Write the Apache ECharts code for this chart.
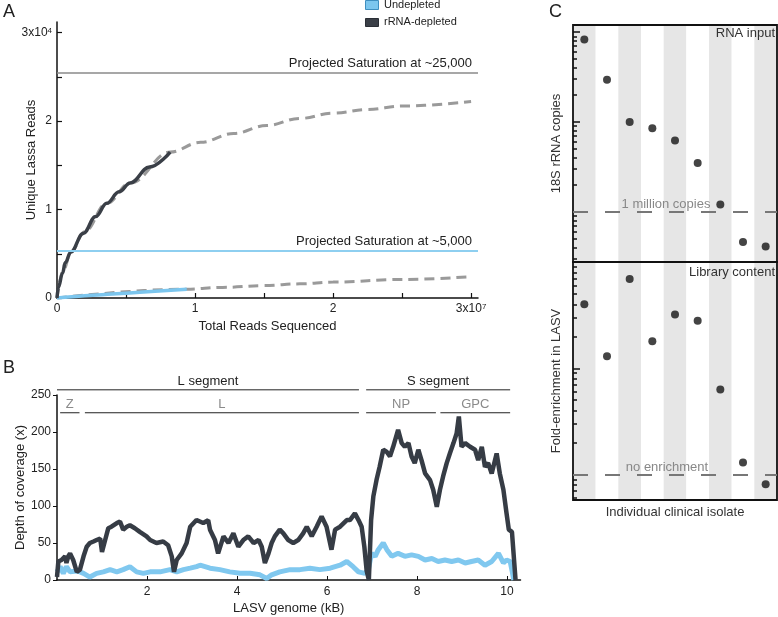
<!DOCTYPE html>
<html><head><meta charset="utf-8">
<script src="https://cdn.jsdelivr.net/npm/echarts@6/dist/echarts.min.js"></script>
<style>html,body{margin:0;padding:0;background:#fff}#c{width:778px;height:617px}</style>
</head><body><div id="c"></div>
<script>
// ---------- Panel A: saturation curves (x = total reads, y = unique Lassa reads) ----------
const depletedCurve = [[0,0],[1e5,1200],[4e5,2800],[6e5,4000],[1.0e6,5200],[1.9e6,7300],[2.8e6,9200],[3.6e6,10700],[4.5e6,12000],[5.3e6,13000],[6.7e6,14800],[8.2e6,16500]];
const depletedProjection = [[0,0],[5e5,3300],[1.0e6,5200],[2.0e6,7500],[3.6e6,10700],[5.3e6,13000],[8.2e6,16500],[10.4e6,17600],[12.8e6,18600],[15.2e6,19500],[17.6e6,20300],[20e6,20900],[22.5e6,21300],[25e6,21700],[30e6,22200]];
const undepletedCurve = [[0,0],[2e6,250],[4e6,450],[6e6,650],[9.4e6,1000]];
const undepletedProjection = [[0,0],[9.4e6,1000],[12e6,1200],[15e6,1400],[17.6e6,1600],[20e6,1800],[25e6,2100],[30e6,2400]];
const saturationDepleted = 25500;
const saturationUndepleted = 5300;
const readsTicks = [0,5e6,10e6,15e6,20e6,25e6,30e6];
const readsLabels = [0,10e6,20e6,30e6];
const uniqueTicks = [0,5000,10000,15000,20000,25000,30000];
const uniqueLabels = [0,10000,20000,30000];

// ---------- Panel B: coverage along LASV genome [kB, depth] ----------
const depletedCoverage = [[0,4],[0.03,25],[0.1,27],[0.18,32],[0.21,23],[0.25,32],[0.29,36],[0.36,27],[0.44,11],[0.51,14],[0.59,32],[0.66,45],[0.73,50],[0.81,52],[0.88,54],[0.96,56],[1.0,38],[1.07,54],[1.14,70],[1.21,72],[1.33,77],[1.40,79],[1.47,68],[1.55,72],[1.62,74],[1.73,70],[1.84,65],[1.99,59],[2.07,54],[2.21,50],[2.36,52],[2.47,47],[2.55,32],[2.60,11],[2.66,27],[2.77,36],[2.88,50],[2.96,72],[3.10,81],[3.25,77],[3.36,81],[3.40,68],[3.51,54],[3.58,36],[3.70,59],[3.81,50],[3.92,63],[4.03,45],[4.14,54],[4.25,59],[4.37,50],[4.48,54],[4.55,45],[4.62,23],[4.70,36],[4.77,50],[4.84,59],[4.95,68],[5.03,63],[5.14,54],[5.25,50],[5.36,54],[5.47,63],[5.55,72],[5.66,59],[5.77,72],[5.88,86],[5.99,72],[6.10,41],[6.18,68],[6.29,72],[6.44,81],[6.51,81],[6.62,90],[6.70,81],[6.77,72],[6.83,45],[6.88,13],[6.93,0],[6.98,81],[7.03,113],[7.10,135],[7.17,153],[7.25,176],[7.33,173],[7.40,167],[7.47,180],[7.58,203],[7.66,185],[7.73,180],[7.81,185],[7.88,167],[7.95,158],[8.03,176],[8.10,162],[8.18,144],[8.29,135],[8.36,122],[8.44,99],[8.51,122],[8.58,140],[8.66,158],[8.73,171],[8.81,185],[8.88,198],[8.93,221],[8.99,180],[9.07,185],[9.18,180],[9.29,176],[9.36,162],[9.44,180],[9.51,153],[9.58,158],[9.66,144],[9.77,171],[9.84,144],[9.92,122],[9.99,90],[10.04,68],[10.11,65],[10.19,0]];
const undepletedCoverage = [[0,11],[0.07,18],[0.14,9],[0.21,18],[0.29,11],[0.44,12],[0.51,11],[0.59,9],[0.73,4],[0.88,9],[1.03,11],[1.18,14],[1.33,11],[1.47,14],[1.62,18],[1.77,11],[1.92,9],[2.07,11],[2.29,11],[2.51,14],[2.66,11],[2.81,14],[2.96,16],[3.10,18],[3.18,20],[3.40,16],[3.62,14],[3.84,11],[4.07,9],[4.29,9],[4.51,7],[4.66,2],[4.77,7],[4.95,11],[5.18,14],[5.40,14],[5.62,16],[5.84,14],[6.07,16],[6.29,20],[6.44,25],[6.58,18],[6.70,11],[6.84,9],[6.92,14],[6.99,36],[7.07,32],[7.14,41],[7.25,50],[7.33,41],[7.44,32],[7.58,36],[7.73,32],[7.88,34],[8.03,32],[8.18,27],[8.33,29],[8.47,25],[8.62,27],[8.77,25],[8.92,27],[9.07,23],[9.21,25],[9.36,27],[9.51,20],[9.66,25],[9.81,36],[9.92,23],[9.99,27],[10.07,25],[10.12,10],[10.15,0]];
const genomeTicks = [2,4,6,8,10];
const segmentNames = ['L segment','S segment'];
const segmentStart = [0, 6.87];
const segmentEnd = [6.71, 10.07];
const geneNames = ['Z','L','NP','GPC'];
const geneStart = [0.07, 0.62, 6.87, 8.52];
const geneEnd = [0.5, 6.71, 8.42, 10.07];

// ---------- Panel C: per isolate ----------
const isolates = ['1','2','3','4','5','6','7','8','9'];
const rrnaCopies = [8.3e7, 2.95e7, 1.0e7, 8.5e6, 6.2e6, 3.5e6, 1.2e6, 4.6e5, 4.1e5];
const foldEnrichment = [40, 13, 69, 18, 32, 28, 6.3, 1.3, 0.81];
const copiesMajor = [1e6, 1e7, 1e8];
const copiesMinor = [3e5,4e5,5e5,6e5,7e5,8e5,9e5,2e6,3e6,4e6,5e6,6e6,7e6,8e6,9e6,2e7,3e7,4e7,5e7,6e7,7e7,8e7,9e7];
const enrichMajor = [1, 10, 100];
const enrichMinor = [0.6,0.7,0.8,0.9,2,3,4,5,6,7,8,9,20,30,40,50,60,70,80,90];

const FONT = 'Liberation Sans';
const chart = echarts.init(document.getElementById('c'), null, {renderer:'canvas'});

const annotations = [];
segmentNames.forEach((n,i)=>annotations.push({name:n, value:[segmentStart[i], segmentEnd[i], 257, 0]}));
geneNames.forEach((n,i)=>annotations.push({name:n, value:[geneStart[i], geneEnd[i], 226, 1]}));

const blackLine = {show:true, lineStyle:{color:'#111', width:1.5}};
const hidden = {show:false};

function logAxis(grid, min, max, ticks, len, name) {
  return {
    gridIndex: grid, type:'log', logBase:10, min:min, max:max, position:'left', offset:0,
    axisLine: hidden, splitLine: hidden, axisLabel: hidden,
    axisTick: {show:true, inside:true, length:len, customValues:ticks, lineStyle:{color:'#111', width:1.5}},
    name: name || '', nameLocation:'middle', nameGap: 10, nameRotate: 90, nameMoveOverlap:false,
    nameTextStyle:{fontSize:13, color:'#333', fontFamily:FONT}
  };
}

const option = {
  animation:false,
  textStyle:{fontFamily:FONT},
  grid:[
    {left:57, top:22, width:421, height:276, outerBoundsMode:'none', containLabel:false},
    {left:57, top:395, width:463.5, height:185, outerBoundsMode:'none', containLabel:false},
    {left:573, top:25, width:204, height:237, outerBoundsMode:'none', show:true, z:5, borderColor:'#111', borderWidth:1.8, backgroundColor:'transparent'},
    {left:573, top:262, width:204, height:238, outerBoundsMode:'none', show:true, z:5, borderColor:'#111', borderWidth:1.8, backgroundColor:'transparent'}
  ],
  xAxis:[
    {gridIndex:0, type:'value', min:0, max:30.5e6, axisLine:blackLine, splitLine:hidden,
     axisTick:{inside:true, length:5, customValues:readsTicks, lineStyle:{color:'#111', width:1.2}},
     axisLabel:{customValues:readsLabels, fontSize:12, color:'#222', margin:5,
       formatter:v=> v===30e6 ? '3x10{s|7}' : String(v/1e7),
       rich:{s:{fontSize:8, verticalAlign:'top', lineHeight:12, color:'#222'}}},
     name:'Total Reads Sequenced', nameLocation:'middle', nameGap:22, nameMoveOverlap:false, nameTextStyle:{fontSize:13, color:'#222'}},
    {gridIndex:1, type:'value', min:0, max:10.3, axisLine:blackLine, splitLine:hidden,
     axisTick:{inside:true, length:4, customValues:genomeTicks, lineStyle:{color:'#111'}},
     axisLabel:{customValues:genomeTicks, fontSize:12, color:'#222', margin:6},
     name:'LASV genome (kB)', nameLocation:'middle', nameGap:22, nameMoveOverlap:false, nameTextStyle:{fontSize:13, color:'#222'}},
    {gridIndex:2, type:'category', data:isolates, boundaryGap:true, axisLine:hidden, axisTick:hidden, axisLabel:hidden,
     splitLine:hidden, splitArea:{show:true, areaStyle:{color:['#e6e6e6','#ffffff']}}},
    {gridIndex:3, type:'category', data:isolates, boundaryGap:true, axisLine:hidden, axisTick:hidden, axisLabel:hidden,
     splitLine:hidden, splitArea:{show:true, areaStyle:{color:['#e6e6e6','#ffffff']}},
     name:'Individual clinical isolate', nameLocation:'middle', nameGap:6, nameMoveOverlap:false, nameTextStyle:{fontSize:13, color:'#333'}}
  ],
  yAxis:[
    {gridIndex:0, type:'value', min:0, max:31200, axisLine:blackLine, splitLine:hidden,
     axisTick:{inside:true, length:5, customValues:uniqueTicks, lineStyle:{color:'#111', width:1.2}},
     axisLabel:{customValues:uniqueLabels, fontSize:12, color:'#222', margin:5,
       formatter:v=> v===30000 ? '3x10{s|4}' : String(v/10000),
       rich:{s:{fontSize:8, verticalAlign:'top', lineHeight:12, color:'#222'}}},
     name:'Unique Lassa Reads', nameLocation:'middle', nameGap:19, nameRotate:90, nameMoveOverlap:false, nameTextStyle:{fontSize:13, color:'#222'}},
    {gridIndex:1, type:'value', min:0, max:250, interval:50, axisLine:blackLine, splitLine:hidden,
     axisTick:{show:true, inside:false, length:4, lineStyle:{color:'#111'}},
     axisLabel:{fontSize:12, color:'#222', margin:6},
     name:'Depth of coverage (x)', nameLocation:'middle', nameGap:30, nameRotate:90, nameMoveOverlap:false, nameTextStyle:{fontSize:13, color:'#222'}},
    logAxis(2, Math.pow(10,5.44), Math.pow(10,8.08), copiesMajor, 7, '18S rRNA copies'),
    logAxis(2, Math.pow(10,5.44), Math.pow(10,8.08), copiesMinor, 4),
    logAxis(3, Math.pow(10,-0.24), Math.pow(10,2.0), enrichMajor, 7, 'Fold-enrichment in LASV'),
    logAxis(3, Math.pow(10,-0.24), Math.pow(10,2.0), enrichMinor, 4)
  ],
  series:[
    {type:'line', xAxisIndex:0, yAxisIndex:0, data:depletedProjection, smooth:0.4, smoothMonotone:'x', showSymbol:false, silent:true,
     lineStyle:{color:'#9a9a9a', width:3, type:[10,6]},
     markLine:{silent:true, symbol:'none', data:[{yAxis:saturationDepleted}], lineStyle:{color:'#8a8a8a', width:1.5, type:'solid'},
       label:{position:'insideEndTop', formatter:'Projected Saturation at ~25,000', fontSize:13, color:'#222', distance:[6,3]}}},
    {type:'line', xAxisIndex:0, yAxisIndex:0, data:undepletedProjection, smooth:0.4, smoothMonotone:'x', showSymbol:false, silent:true,
     lineStyle:{color:'#9a9a9a', width:3, type:[10,6]},
     markLine:{silent:true, symbol:'none', data:[{yAxis:saturationUndepleted}], lineStyle:{color:'#8ecff0', width:2, type:'solid'},
       label:{position:'insideEndTop', formatter:'Projected Saturation at ~5,000', fontSize:13, color:'#222', distance:[6,3]}}},
    {type:'line', xAxisIndex:0, yAxisIndex:0, data:undepletedCurve, smooth:0.4, showSymbol:false, silent:true,
     lineStyle:{color:'#7cc6ee', width:3.5}},
    {type:'line', xAxisIndex:0, yAxisIndex:0, data:depletedCurve, smooth:0.4, smoothMonotone:'x', showSymbol:false, silent:true,
     lineStyle:{color:'#3a3f47', width:3.5}},

    {type:'line', xAxisIndex:1, yAxisIndex:1, data:undepletedCoverage, showSymbol:false, silent:true,
     lineStyle:{color:'#80c8ef', width:5}},
    {type:'line', xAxisIndex:1, yAxisIndex:1, data:depletedCoverage, showSymbol:false, silent:true,
     lineStyle:{color:'#363c45', width:4.5}},
    {type:'custom', xAxisIndex:1, yAxisIndex:1, data:annotations, clip:false, silent:true,
     encode:{x:[0,1], y:2},
     renderItem:function(params, api){
       const a = api.coord([api.value(0), api.value(2)]);
       const b = api.coord([api.value(1), api.value(2)]);
       const top = api.value(3) === 0;
       return {type:'group', children:[
         {type:'line', shape:{x1:a[0], y1:a[1], x2:b[0], y2:b[1]}, style:{stroke:'#222', lineWidth:1}},
         {type:'text', x:(a[0]+b[0])/2, y:a[1]-2,
          style:{text:annotations[params.dataIndex].name, align:'center', verticalAlign:'bottom',
                 fill: top ? '#222' : '#8a8a8a', fontSize:13, fontFamily:FONT}}
       ]};
     }},

    {type:'scatter', xAxisIndex:2, yAxisIndex:2, data:rrnaCopies, symbolSize:8, silent:true,
     itemStyle:{color:'#151515'},
     markLine:{silent:true, symbol:'none', data:[{yAxis:1e6}], lineStyle:{color:'#777', width:2, type:[15,17]},
       label:{position:'insideMiddleTop', formatter:'1 million copies', fontSize:13, color:'#888', distance:1, padding:[0,18,0,0]}}},
    {type:'scatter', xAxisIndex:3, yAxisIndex:4, data:foldEnrichment, symbolSize:8, silent:true,
     itemStyle:{color:'#151515'},
     markLine:{silent:true, symbol:'none', data:[{yAxis:1}], lineStyle:{color:'#777', width:2, type:[15,17]},
       label:{position:'insideMiddleTop', formatter:'no enrichment', fontSize:13, color:'#888', distance:1, padding:[0,16,0,0]}}}
  ],
  graphic:[
    {type:'text', left:3, top:3, style:{text:'A', fontSize:18, fill:'#222', fontFamily:FONT}},
    {type:'text', left:3, top:359, style:{text:'B', fontSize:18, fill:'#222', fontFamily:FONT}},
    {type:'text', left:549, top:3, style:{text:'C', fontSize:18, fill:'#222', fontFamily:FONT}},
    {type:'rect', left:365, top:0, shape:{width:13, height:9}, style:{fill:'#7cc6ee', stroke:'#3f8fc0', lineWidth:1}},
    {type:'rect', left:365, top:18, shape:{width:13, height:8}, style:{fill:'#3a3f47', stroke:'#2a2e35', lineWidth:1}},
    {type:'text', left:384, top:-1, style:{text:'Undepleted', fontSize:11, fill:'#222', fontFamily:FONT}},
    {type:'text', left:384, top:16, style:{text:'rRNA-depleted', fontSize:11, fill:'#222', fontFamily:FONT}},
    {type:'text', right:3, top:27, z:10, style:{text:'RNA input', fontSize:13, fill:'#333', fontFamily:FONT}},
    {type:'text', right:3, top:266, z:10, style:{text:'Library content', fontSize:13, fill:'#333', fontFamily:FONT}}
  ]
};
chart.setOption(option);
</script></body></html>
